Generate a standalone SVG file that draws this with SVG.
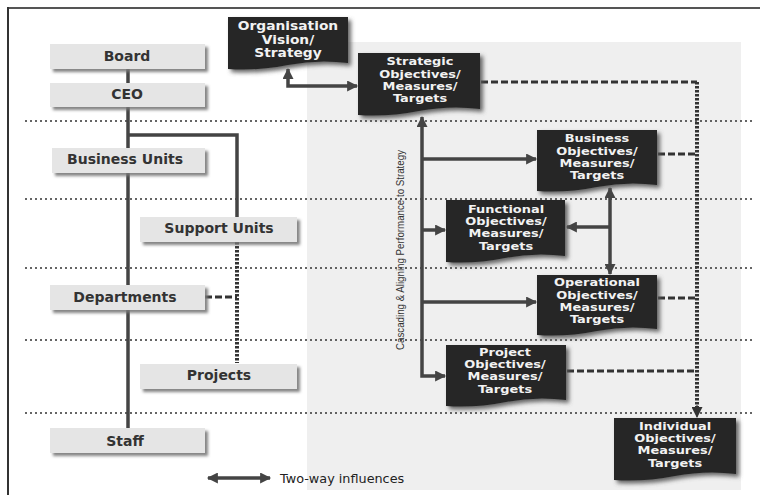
<svg xmlns="http://www.w3.org/2000/svg" width="760" height="495" viewBox="0 0 760 495">
<defs>
<filter id="sh" x="-10%" y="-10%" width="130%" height="140%">
<feDropShadow dx="3" dy="3" stdDeviation="1.6" flood-color="#777" flood-opacity="0.9"/>
</filter>
<filter id="dsh" x="-10%" y="-10%" width="130%" height="140%">
<feDropShadow dx="3" dy="3" stdDeviation="2" flood-color="#555" flood-opacity="0.9"/>
</filter>
<marker id="ar" viewBox="0 0 10 10" refX="9" refY="5" markerUnits="userSpaceOnUse" markerWidth="12" markerHeight="11" orient="auto-start-reverse">
<path d="M0,0 L10,5 L0,10 z" fill="#444"/>
</marker>
<marker id="ard" viewBox="0 0 10 10" refX="9" refY="5" markerUnits="userSpaceOnUse" markerWidth="12" markerHeight="11" orient="auto">
<path d="M0,0 L10,5 L0,10 z" fill="#333"/>
</marker>
</defs>
<style>
.lbox{fill:#e5e5e5;filter:url(#sh)}
.ltxt{font-family:"DejaVu Sans",Verdana,sans-serif;font-weight:bold;font-size:14px;fill:#333;text-anchor:middle}
.dbox{fill:#262626;filter:url(#dsh)}
.dtxt{font-family:"DejaVu Sans",Verdana,sans-serif;font-weight:bold;font-size:10.8px;fill:#f2f2f2;text-anchor:middle}
.otxt{font-family:"DejaVu Sans",Verdana,sans-serif;font-weight:bold;font-size:12px;fill:#f2f2f2;text-anchor:middle}
.grid{stroke:#333;stroke-width:1.6;stroke-dasharray:2 3;fill:none}
.solid{stroke:#444;stroke-width:3.5;fill:none}
.dash{stroke:#333;stroke-width:3;stroke-dasharray:7 3;fill:none}
.dots{stroke:#333;stroke-width:4;stroke-dasharray:2.5 1.5;fill:none}
</style>
<rect width="760" height="495" fill="#ffffff"/>
<line x1="8" y1="8" x2="760" y2="8" stroke="#555" stroke-width="2"/>
<line x1="8" y1="7" x2="8" y2="495" stroke="#333" stroke-width="2"/>
<rect x="307" y="42" width="434" height="448" fill="#efefef"/>
<g id="gridlines">
<line class="grid" x1="25" y1="121" x2="755" y2="121"/>
<line class="grid" x1="25" y1="199" x2="755" y2="199"/>
<line class="grid" x1="25" y1="268" x2="755" y2="268"/>
<line class="grid" x1="25" y1="340" x2="755" y2="340"/>
<line class="grid" x1="25" y1="413" x2="755" y2="413"/>
</g>
<g id="connectors">
<line class="solid" x1="128" y1="68" x2="128" y2="432" stroke-width="4"/>
<path class="solid" d="M128,135 H237 V219" stroke-width="4"/>
<line class="dots" x1="237" y1="242" x2="237" y2="363"/>
<line class="dash" x1="205" y1="297" x2="237" y2="297"/>
<path class="solid" d="M288,69 V86 H357" marker-start="url(#ar)" marker-end="url(#ar)"/>
<path class="solid" d="M422,117 V376 H445" marker-start="url(#ar)" marker-end="url(#ar)"/>
<line class="solid" x1="422" y1="159" x2="536" y2="159" marker-end="url(#ar)"/>
<line class="solid" x1="422" y1="230" x2="445" y2="230" marker-end="url(#ar)"/>
<line class="solid" x1="422" y1="302" x2="536" y2="302" marker-end="url(#ar)"/>
<line class="solid" x1="610" y1="188" x2="610" y2="274" marker-start="url(#ar)" marker-end="url(#ar)"/>
<line class="solid" x1="610" y1="227" x2="567" y2="227" marker-end="url(#ar)"/>
<line class="dash" x1="481" y1="82" x2="697" y2="82"/>
<line class="dash" x1="658" y1="154" x2="697" y2="154"/>
<line class="dash" x1="658" y1="298" x2="697" y2="298"/>
<line class="dash" x1="567" y1="371" x2="697" y2="371"/>
<line class="dots" x1="697" y1="82" x2="697" y2="408"/>
<line x1="697" y1="405" x2="697" y2="417" stroke="#333" stroke-width="1" marker-end="url(#ard)"/>
</g>
<g id="board"><rect class="lbox" x="50" y="44" width="155" height="25"/><text class="ltxt" x="127" y="61">Board</text></g>
<g id="ceo"><rect class="lbox" x="50" y="83" width="155" height="24"/><text class="ltxt" x="127" y="99">CEO</text></g>
<g id="business-units"><rect class="lbox" x="52" y="148" width="153" height="25"/><text class="ltxt" x="125" y="164">Business Units</text></g>
<g id="support-units"><rect class="lbox" x="140" y="217" width="157" height="25"/><text class="ltxt" x="219" y="233">Support Units</text></g>
<g id="departments"><rect class="lbox" x="50" y="285" width="155" height="25"/><text class="ltxt" x="125" y="302">Departments</text></g>
<g id="projects"><rect class="lbox" x="140" y="364" width="157" height="25"/><text class="ltxt" x="219" y="380">Projects</text></g>
<g id="staff"><rect class="lbox" x="50" y="428" width="155" height="25"/><text class="ltxt" x="125" y="446">Staff</text></g>
<g id="org-vision">
<path class="dbox" d="M228,17 H348 V63 Q318,59 288,65 T228,69 Z"/>
<g transform="translate(288,0) scale(1.15,1)">
<text class="otxt" x="0" y="30">Organisation</text>
<text class="otxt" x="0" y="44">Vision/</text>
<text class="otxt" x="0" y="57.5">Strategy</text>
</g>
</g>
<g id="strategic">
<path class="dbox" d="M358,53 H480 V109 Q450,105 419,111 T358,115 Z"/>
<g transform="translate(420,0) scale(1.2,1)">
<text class="dtxt" x="0" y="65.5">Strategic</text>
<text class="dtxt" x="0" y="77.7">Objectives/</text>
<text class="dtxt" x="0" y="89.9">Measures/</text>
<text class="dtxt" x="0" y="102.1">Targets</text>
</g>
</g>
<g id="business">
<path class="dbox" d="M537,130 H657 V185 Q627,181 597,187 T537,191 Z"/>
<g transform="translate(597,0) scale(1.2,1)">
<text class="dtxt" x="0" y="142.5">Business</text>
<text class="dtxt" x="0" y="154.7">Objectives/</text>
<text class="dtxt" x="0" y="166.9">Measures/</text>
<text class="dtxt" x="0" y="179.1">Targets</text>
</g>
</g>
<g id="functional">
<path class="dbox" d="M446,200 H565 V256 Q535,252 505,258 T446,262 Z"/>
<g transform="translate(506,0) scale(1.2,1)">
<text class="dtxt" x="0" y="213">Functional</text>
<text class="dtxt" x="0" y="225.2">Objectives/</text>
<text class="dtxt" x="0" y="237.4">Measures/</text>
<text class="dtxt" x="0" y="249.6">Targets</text>
</g>
</g>
<g id="operational">
<path class="dbox" d="M537,275 H657 V329 Q627,325 597,331 T537,335 Z"/>
<g transform="translate(597,0) scale(1.2,1)">
<text class="dtxt" x="0" y="286.5">Operational</text>
<text class="dtxt" x="0" y="298.7">Objectives/</text>
<text class="dtxt" x="0" y="310.9">Measures/</text>
<text class="dtxt" x="0" y="323.1">Targets</text>
</g>
</g>
<g id="project">
<path class="dbox" d="M446,345 H566 V400 Q536,396 506,402 T446,406 Z"/>
<g transform="translate(505,0) scale(1.2,1)">
<text class="dtxt" x="0" y="356">Project</text>
<text class="dtxt" x="0" y="368.2">Objectives/</text>
<text class="dtxt" x="0" y="380.4">Measures/</text>
<text class="dtxt" x="0" y="392.6">Targets</text>
</g>
</g>
<g id="individual">
<path class="dbox" d="M614,418 H736 V474 Q706,470 675,476 T614,480 Z"/>
<g transform="translate(675,0) scale(1.2,1)">
<text class="dtxt" x="0" y="430">Individual</text>
<text class="dtxt" x="0" y="442.2">Objectives/</text>
<text class="dtxt" x="0" y="454.4">Measures/</text>
<text class="dtxt" x="0" y="466.6">Targets</text>
</g>
</g>
<text x="0" y="0" transform="translate(404,250) rotate(-90)" font-family="'Liberation Sans',Arial,sans-serif" font-size="11" fill="#333" text-anchor="middle" textLength="200" lengthAdjust="spacingAndGlyphs">Cascading &amp; Aligning Performance to Strategy</text>
<g id="legend">
<line class="solid" x1="208" y1="478" x2="270" y2="478" stroke-width="4" marker-start="url(#ar)" marker-end="url(#ar)"/>
<text x="280" y="483" font-family="'DejaVu Sans',Verdana,sans-serif" font-size="12.8" fill="#222">Two-way influences</text>
</g>
</svg>
